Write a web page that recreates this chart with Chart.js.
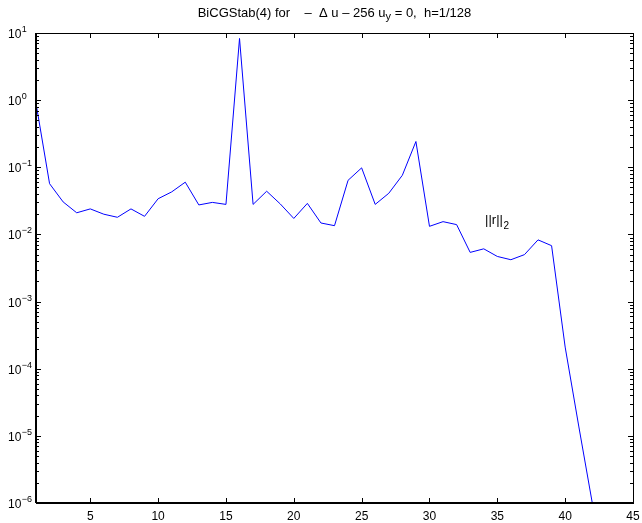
<!DOCTYPE html>
<html>
<head>
<meta charset="utf-8">
<script src="https://cdn.jsdelivr.net/npm/chart.js@4.4.1/dist/chart.umd.min.js"></script>
<style>
  html, body { margin: 0; padding: 0; background: #fff; }
  canvas { display: block; }
</style>
</head>
<body>
<canvas id="chart" width="642" height="523"></canvas>
<script>
// residual norm per iteration
const iterations = [1, 2, 3, 4, 5, 6, 7, 8, 9, 10, 11, 12, 13, 14, 15, 16, 17, 18, 19, 20, 21,
  22, 23, 24, 25, 26, 27, 28, 29, 30, 31, 32, 33, 34, 35, 36, 37, 38, 39, 40, 41, 42]
const residuals = [0.9, 0.057, 0.0305, 0.021, 0.024, 0.020, 0.018, 0.024, 0.0186, 0.034, 0.043,
  0.060, 0.0275, 0.030, 0.028, 8.3, 0.028, 0.044, 0.0285, 0.0173, 0.029, 0.0148, 0.0135, 0.064,
  0.098, 0.028, 0.041, 0.076, 0.242, 0.0132, 0.0155, 0.014, 0.0054, 0.0061, 0.0047, 0.0042,
  0.0050, 0.0083, 0.0068, 2.1e-4, 1.4e-5, 1e-6]
const xTicks = [5, 10, 15, 20, 25, 30, 35, 40, 45]
const yExponents = [-6, -5, -4, -3, -2, -1, 0, 1]
const curveLabel = { x: 34.1, y: 0.0142 }

const FONT = '"Liberation Sans", Arial, Helvetica, sans-serif'

// matlab-style box, inward ticks, power-of-ten labels and the title
const matlabAxes = {
  id: 'matlabAxes',
  afterDatasetsDraw(chart) {
    const { ctx, chartArea: a, scales: { x, y } } = chart
    ctx.save()
    ctx.strokeStyle = '#000'
    ctx.fillStyle = '#000'
    ctx.lineWidth = 1

    ctx.beginPath()
    xTicks.forEach(v => {
      const px = Math.round(x.getPixelForValue(v)) + 0.5
      ctx.moveTo(px, a.bottom); ctx.lineTo(px, a.bottom - 5)
      ctx.moveTo(px, a.top); ctx.lineTo(px, a.top + 5)
    })
    yExponents.forEach(e => {
      for (let m = 1; m <= 9; m++) {
        const v = m * Math.pow(10, e)
        if (v > y.max * 1.0001) break
        const py = Math.round(y.getPixelForValue(v)) + 0.5
        const len = m === 1 ? 5 : 3
        ctx.moveTo(a.left, py); ctx.lineTo(a.left + len, py)
        ctx.moveTo(a.right, py); ctx.lineTo(a.right - len, py)
      }
    })
    ctx.stroke()

    // axes box
    ctx.lineWidth = 1
    ctx.strokeRect(Math.round(a.left) + 0.5, Math.round(a.top) + 0.5,
      Math.round(a.right - a.left), Math.round(a.bottom - a.top))
    ctx.lineWidth = 2
    ctx.beginPath()
    ctx.moveTo(a.left, a.bottom); ctx.lineTo(a.right + 1, a.bottom)
    ctx.moveTo(a.left, a.top); ctx.lineTo(a.left, a.bottom)
    ctx.stroke()

    // x tick labels
    ctx.font = '12px ' + FONT
    ctx.textAlign = 'center'
    ctx.textBaseline = 'alphabetic'
    xTicks.forEach(v => ctx.fillText(String(v), x.getPixelForValue(v), a.bottom + 17))

    // y tick labels as 10^e
    ctx.textAlign = 'left'
    yExponents.forEach(e => {
      const py = y.getPixelForValue(Math.pow(10, e))
      ctx.font = '12px ' + FONT
      ctx.fillText('10', 8, py + 5)
      const w = ctx.measureText('10').width
      ctx.font = '9px ' + FONT
      ctx.fillText(e < 0 ? '\u2212' + (-e) : String(e), 8 + w + 0.5, py - 1)
    })

    // curve label ||r||_2
    const lx = x.getPixelForValue(curveLabel.x)
    const ly = y.getPixelForValue(curveLabel.y)
    ctx.font = '13px ' + FONT
    ctx.fillText('||r||', lx, ly)
    const lw = ctx.measureText('||r||').width
    ctx.font = '10px ' + FONT
    ctx.fillText('2', lx + lw + 0.5, ly + 5)

    // title with subscript
    const parts = [
      { t: 'BiCGStab(4) for    \u2013  \u0394 u \u2013 256 u', size: 13, dy: 0 },
      { t: 'y', size: 11, dy: 3 },
      { t: ' = 0,  h=1/128', size: 13, dy: 0 }
    ]
    let total = 0
    parts.forEach(p => { ctx.font = p.size + 'px ' + FONT; p.w = ctx.measureText(p.t).width; total += p.w })
    let tx = (a.left + a.right) / 2 - total / 2
    parts.forEach(p => {
      ctx.font = p.size + 'px ' + FONT
      ctx.fillText(p.t, tx, 17 + p.dy)
      tx += p.w
    })
    ctx.restore()
  }
}

const ctx = document.getElementById('chart').getContext('2d')
new Chart(ctx, {
  type: 'line',
  data: {
    datasets: [{
      data: iterations.map((it, i) => ({ x: it, y: residuals[i] })),
      borderColor: '#0000ff',
      borderWidth: 1,
      pointRadius: 0,
      tension: 0,
      fill: false
    }]
  },
  options: {
    responsive: false,
    animation: false,
    layout: { padding: { left: 36, right: 9, top: 33, bottom: 20 } },
    plugins: { legend: { display: false }, tooltip: { enabled: false }, title: { display: false } },
    scales: {
      x: { type: 'linear', min: 1, max: 45, display: false },
      y: { type: 'logarithmic', min: 1e-6, max: 10, display: false }
    }
  },
  plugins: [matlabAxes]
})
</script>
</body>
</html>
